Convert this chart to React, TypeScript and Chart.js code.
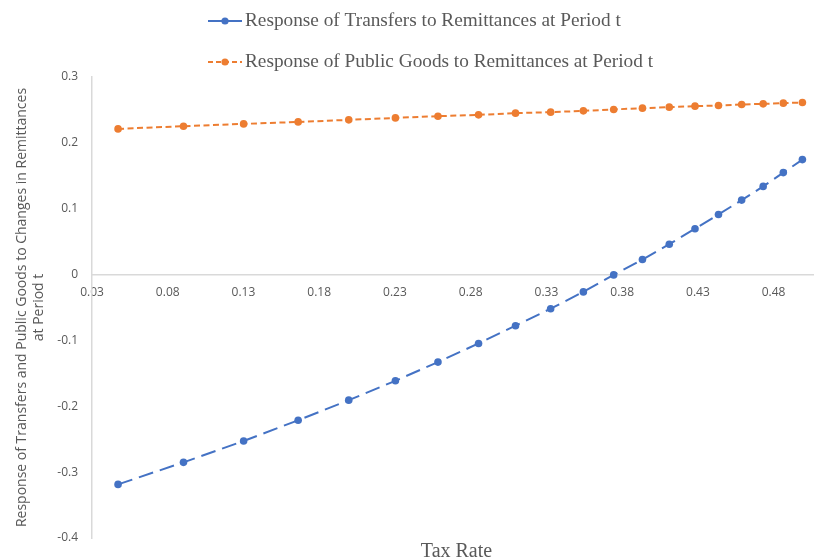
import React, { useEffect, useRef } from "react";
import { Chart, registerables } from "chart.js";

Chart.register(...registerables);

// ---- data ----
const taxRates = [0.0472, 0.0904, 0.1301, 0.1661, 0.1995, 0.2303, 0.2584, 0.2852, 0.3096, 0.3328, 0.3544, 0.3744, 0.3934, 0.4111, 0.4281, 0.4436, 0.4589, 0.4731, 0.4864, 0.499];
const transfers = [-0.3186, -0.2851, -0.2527, -0.2212, -0.1907, -0.1613, -0.1329, -0.1046, -0.0776, -0.0518, -0.0263, -0.0005, 0.0228, 0.0461, 0.0696, 0.0913, 0.1131, 0.1339, 0.1548, 0.1746];
const publicGoods = [0.2212, 0.2253, 0.2288, 0.2318, 0.2349, 0.2379, 0.2405, 0.2425, 0.2451, 0.2466, 0.2486, 0.2507, 0.2527, 0.2542, 0.2557, 0.2568, 0.2583, 0.2592, 0.2603, 0.2613];
const xTicks = [0.03, 0.08, 0.13, 0.18, 0.23, 0.28, 0.33, 0.38, 0.43, 0.48];
const yTicks = [-0.4, -0.3, -0.2, -0.1, 0, 0.1, 0.2, 0.3];
const seriesNames = [
  "Response of Transfers to Remittances at Period t",
  "Response of Public Goods to Remittances at Period t",
];
const xTitle = "Tax Rate";
const yTitle = [
  "Response of Transfers and Public Goods to Changes in Remittances",
  "at Period t",
];

const BLUE = "#4472C4";
const ORANGE = "#ED7D31";
const TEXT = "#595959";
const AXIS = "#D9D9D9";

const overlayPlugin = {
  id: "overlay",
  afterDraw(chart: any) {
    const ctx = chart.ctx as CanvasRenderingContext2D;
    ctx.save();
    const items = [
      { y: 21, color: BLUE, dash: [] as number[], label: seriesNames[0] },
      { y: 62, color: ORANGE, dash: [5, 3], label: seriesNames[1] },
    ];
    for (const it of items) {
      ctx.strokeStyle = it.color;
      ctx.lineWidth = 2;
      ctx.setLineDash(it.dash);
      ctx.beginPath();
      ctx.moveTo(208, it.y);
      ctx.lineTo(242, it.y);
      ctx.stroke();
      ctx.setLineDash([]);
      ctx.fillStyle = it.color;
      ctx.beginPath();
      ctx.arc(225, it.y, 3.6, 0, Math.PI * 2);
      ctx.fill();
      ctx.fillStyle = TEXT;
      ctx.font = '19.3px "Liberation Serif", "Times New Roman", serif';
      ctx.textAlign = "left";
      ctx.textBaseline = "middle";
      ctx.fillText(it.label, 245, it.y);
    }
    const area = chart.chartArea;
    ctx.fillStyle = TEXT;
    ctx.font = '20px "Liberation Serif", "Times New Roman", serif';
    ctx.textAlign = "center";
    ctx.textBaseline = "middle";
    ctx.fillText(xTitle, (area.left + area.right) / 2 + 4, 552);
    ctx.restore();
  },
};

export default function App() {
  const ref = useRef<HTMLCanvasElement | null>(null);
  useEffect(() => {
    document.body.style.margin = "0";
    const canvas = ref.current;
    if (!canvas) return;
    const tickFont = { family: '"Open Sans", sans-serif', size: 12 };
    const chart = new Chart(canvas, {
      type: "line",
      data: {
        datasets: [
          {
            label: seriesNames[0],
            data: taxRates.map((x, i) => ({ x, y: transfers[i] })),
            borderColor: BLUE,
            backgroundColor: BLUE,
            borderWidth: 2,
            borderDash: [15, 7],
            pointRadius: 3.8,
            pointBorderWidth: 0,
            pointBackgroundColor: BLUE,
            tension: 0,
            fill: false,
          },
          {
            label: seriesNames[1],
            data: taxRates.map((x, i) => ({ x, y: publicGoods[i] })),
            borderColor: ORANGE,
            backgroundColor: ORANGE,
            borderWidth: 2,
            borderDash: [6, 3.5],
            pointRadius: 3.8,
            pointBorderWidth: 0,
            pointBackgroundColor: ORANGE,
            tension: 0,
            fill: false,
          },
        ],
      },
      options: {
        animation: false,
        responsive: true,
        maintainAspectRatio: false,
        layout: { padding: { top: 77, bottom: 22, left: 0, right: 0 } },
        plugins: {
          legend: { display: false },
          tooltip: { enabled: false },
          title: { display: false },
        },
        scales: {
          x: {
            type: "linear",
            position: { y: 0 } as any,
            min: 0.03,
            max: 0.506,
            afterBuildTicks: (s: any) => {
              s.ticks = xTicks.map((v) => ({ value: v }));
            },
            ticks: {
              autoSkip: false,
              maxRotation: 0,
              padding: 3,
              color: TEXT,
              font: tickFont,
              callback: (v: any) => Number(v).toFixed(2),
            },
            grid: { display: false },
            border: { display: true, color: AXIS, width: 1.5 },
          },
          y: {
            type: "linear",
            position: "left",
            min: -0.4,
            max: 0.3,
            afterBuildTicks: (s: any) => {
              s.ticks = yTicks.map((v) => ({ value: v }));
            },
            afterFit: (s: any) => {
              s.width = 92;
            },
            ticks: {
              padding: 6,
              color: TEXT,
              font: tickFont,
              callback: (v: any) => {
                const r = Math.round(Number(v) * 10) / 10;
                return r === 0 ? "0" : String(r);
              },
            },
            grid: { display: false },
            border: { display: true, color: AXIS, width: 1.5 },
            title: {
              display: true,
              text: yTitle,
              color: TEXT,
              font: { family: '"Open Sans", sans-serif', size: 14, lineHeight: 1.2 },
              padding: { top: 14, bottom: 0 },
            },
          },
        },
      },
      plugins: [overlayPlugin],
    });
    return () => chart.destroy();
  }, []);
  return (
    <div style={{ position: "relative", width: 817, height: 560, background: "#fff" }}>
      <canvas ref={ref} />
    </div>
  );
}
